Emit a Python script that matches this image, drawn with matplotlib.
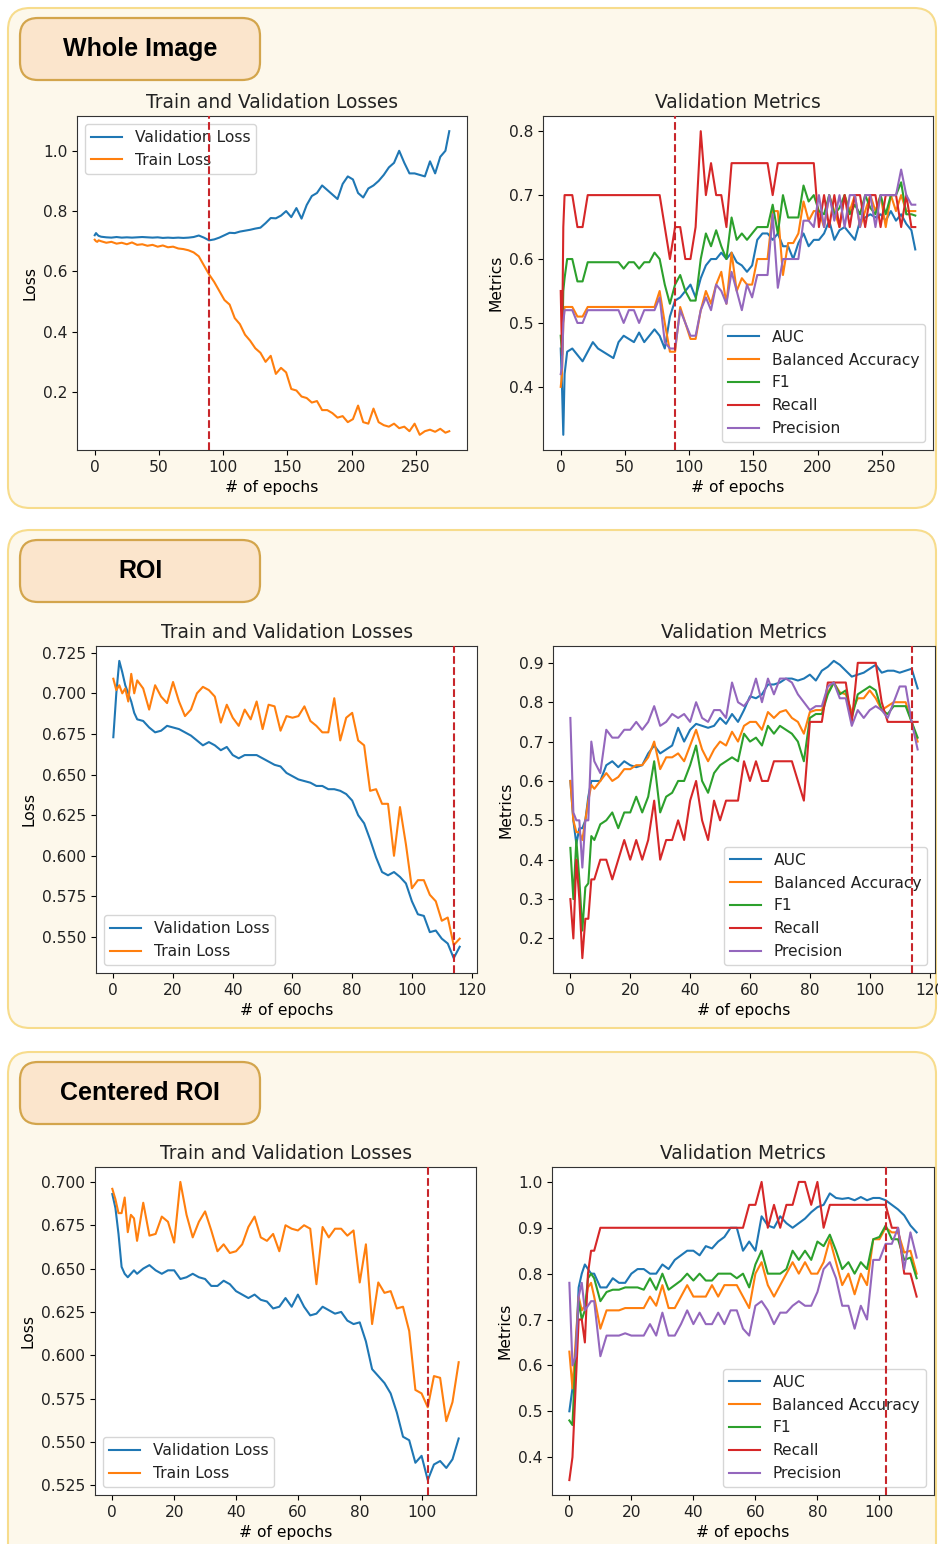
import matplotlib.pyplot as plt
from matplotlib.patches import FancyBboxPatch

# ---------------- Whole Image ----------------
wi_epochs = [0, 1, 2, 3,
             5, 9, 13, 17, 21, 25, 29, 33, 37, 41,
             45, 49, 53, 57, 61, 65, 69, 73, 77, 81,
             85, 89, 93, 97, 101, 105, 109, 113, 117, 121,
             125, 129, 133, 137, 141, 145, 149, 153, 157, 161,
             165, 169, 173, 177, 181, 185, 189, 193, 197, 201,
             205, 209, 213, 217, 221, 225, 229, 233, 237, 241,
             245, 249, 253, 257, 261, 265, 269, 273, 276]
wi_val_loss = [0.720, 0.727, 0.722, 0.718,
               0.715, 0.713, 0.712, 0.714, 0.712, 0.713, 0.712, 0.713, 0.714, 0.713,
               0.712, 0.713, 0.711, 0.712, 0.711, 0.712, 0.711, 0.712, 0.714, 0.719,
               0.712, 0.703, 0.706, 0.712, 0.720, 0.728, 0.727, 0.732, 0.735, 0.738,
               0.742, 0.745, 0.760, 0.777, 0.776, 0.785, 0.800, 0.780, 0.810, 0.775,
               0.820, 0.850, 0.860, 0.885, 0.870, 0.855, 0.840, 0.890, 0.915, 0.905,
               0.860, 0.845, 0.875, 0.885, 0.900, 0.920, 0.945, 0.960, 1.000, 0.960,
               0.925, 0.925, 0.920, 0.915, 0.965, 0.925, 0.980, 1.000, 1.065]
wi_train_loss = [0.705, 0.700, 0.698, 0.703,
                 0.700, 0.695, 0.698, 0.692, 0.695, 0.690, 0.696, 0.688, 0.690, 0.685,
                 0.688, 0.682, 0.686, 0.680, 0.682, 0.676, 0.674, 0.670, 0.663, 0.650,
                 0.620, 0.590, 0.565, 0.535, 0.505, 0.490, 0.445, 0.425, 0.390, 0.370,
                 0.345, 0.330, 0.300, 0.320, 0.260, 0.280, 0.265, 0.210, 0.205, 0.185,
                 0.180, 0.165, 0.170, 0.140, 0.140, 0.130, 0.115, 0.120, 0.100, 0.110,
                 0.155, 0.100, 0.095, 0.145, 0.100, 0.090, 0.085, 0.095, 0.080, 0.085,
                 0.070, 0.095, 0.058, 0.070, 0.075, 0.068, 0.078, 0.065, 0.070]
wi_auc = [0.46, 0.40, 0.325, 0.42,
          0.455, 0.46, 0.45, 0.44, 0.455, 0.47, 0.46, 0.455, 0.45, 0.445,
          0.47, 0.48, 0.475, 0.47, 0.485, 0.47, 0.48, 0.49, 0.48, 0.46,
          0.51, 0.535, 0.54, 0.55, 0.56, 0.54, 0.57, 0.59, 0.60, 0.60,
          0.61, 0.60, 0.61, 0.595, 0.59, 0.58, 0.59, 0.63, 0.64, 0.64,
          0.63, 0.64, 0.62, 0.62, 0.60, 0.625, 0.64, 0.62, 0.63, 0.63,
          0.64, 0.66, 0.63, 0.645, 0.65, 0.64, 0.63, 0.66, 0.665, 0.67,
          0.665, 0.67, 0.66, 0.675, 0.66, 0.67, 0.655, 0.645, 0.615]
wi_bacc = [0.40, 0.42, 0.50, 0.525,
           0.525, 0.525, 0.51, 0.51, 0.525, 0.525, 0.525, 0.525, 0.525, 0.525,
           0.525, 0.525, 0.525, 0.525, 0.525, 0.525, 0.525, 0.525, 0.55, 0.50,
           0.455, 0.455, 0.525, 0.50, 0.475, 0.475, 0.52, 0.55, 0.53, 0.56,
           0.58, 0.53, 0.61, 0.55, 0.57, 0.56, 0.56, 0.60, 0.60, 0.60,
           0.675, 0.675, 0.575, 0.625, 0.625, 0.64, 0.69, 0.66, 0.675, 0.675,
           0.65, 0.70, 0.675, 0.65, 0.70, 0.675, 0.70, 0.65, 0.675, 0.70,
           0.675, 0.70, 0.65, 0.70, 0.675, 0.70, 0.675, 0.675, 0.675]
wi_f1 = [0.48, 0.45, 0.55, 0.57,
         0.60, 0.60, 0.565, 0.565, 0.595, 0.595, 0.595, 0.595, 0.595, 0.595,
         0.595, 0.585, 0.595, 0.595, 0.585, 0.595, 0.595, 0.61, 0.60, 0.56,
         0.53, 0.56, 0.575, 0.55, 0.535, 0.535, 0.60, 0.64, 0.62, 0.645,
         0.62, 0.60, 0.665, 0.63, 0.64, 0.63, 0.64, 0.65, 0.65, 0.65,
         0.685, 0.64, 0.70, 0.665, 0.665, 0.665, 0.715, 0.69, 0.70, 0.675,
         0.67, 0.70, 0.67, 0.68, 0.70, 0.67, 0.685, 0.67, 0.70, 0.68,
         0.67, 0.70, 0.67, 0.70, 0.70, 0.72, 0.67, 0.67, 0.668]
wi_recall = [0.55, 0.45, 0.65, 0.70,
             0.70, 0.70, 0.65, 0.65, 0.70, 0.70, 0.70, 0.70, 0.70, 0.70,
             0.70, 0.70, 0.70, 0.70, 0.70, 0.70, 0.70, 0.70, 0.70, 0.65,
             0.60, 0.65, 0.65, 0.60, 0.60, 0.65, 0.80, 0.70, 0.75, 0.70,
             0.70, 0.65, 0.75, 0.75, 0.75, 0.75, 0.75, 0.75, 0.75, 0.75,
             0.70, 0.75, 0.75, 0.75, 0.75, 0.75, 0.75, 0.75, 0.75, 0.65,
             0.70, 0.65, 0.70, 0.65, 0.70, 0.65, 0.70, 0.70, 0.65, 0.70,
             0.70, 0.65, 0.70, 0.70, 0.70, 0.65, 0.70, 0.65, 0.65]
wi_precision = [0.42, 0.43, 0.50, 0.52,
                0.52, 0.52, 0.50, 0.50, 0.52, 0.52, 0.52, 0.52, 0.52, 0.52,
                0.52, 0.50, 0.52, 0.52, 0.50, 0.52, 0.52, 0.52, 0.54, 0.47,
                0.46, 0.46, 0.52, 0.50, 0.48, 0.48, 0.52, 0.54, 0.52, 0.56,
                0.55, 0.53, 0.58, 0.55, 0.52, 0.56, 0.54, 0.575, 0.575, 0.575,
                0.67, 0.555, 0.60, 0.60, 0.60, 0.60, 0.66, 0.66, 0.65, 0.70,
                0.65, 0.70, 0.66, 0.70, 0.65, 0.70, 0.70, 0.65, 0.70, 0.70,
                0.65, 0.70, 0.70, 0.70, 0.70, 0.74, 0.70, 0.685, 0.685]
wi_best = 89

# ---------------- ROI ----------------
roi_epochs = [0, 1, 2, 3, 4, 5, 6, 7,
              8, 10, 12, 14, 16, 18, 20, 22, 24, 26,
              28, 30, 32, 34, 36, 38, 40, 42, 44, 46,
              48, 50, 52, 54, 56, 58, 60, 62, 64, 66,
              68, 70, 72, 74, 76, 78, 80, 82, 84, 86,
              88, 90, 92, 94, 96, 98, 100, 102, 104, 106,
              108, 110, 112, 114, 116]
roi_val_loss = [0.673, 0.700, 0.720, 0.713, 0.705, 0.700, 0.695, 0.688,
                0.684, 0.683, 0.679, 0.676, 0.677, 0.680, 0.679, 0.678, 0.676, 0.674,
                0.671, 0.668, 0.670, 0.668, 0.665, 0.667, 0.662, 0.660, 0.662, 0.662,
                0.662, 0.660, 0.658, 0.656, 0.655, 0.651, 0.649, 0.647, 0.646, 0.645,
                0.643, 0.643, 0.641, 0.641, 0.640, 0.638, 0.634, 0.625, 0.620, 0.610,
                0.599, 0.590, 0.588, 0.590, 0.587, 0.583, 0.572, 0.564, 0.563, 0.553,
                0.554, 0.549, 0.546, 0.537, 0.544]
roi_train_loss = [0.709, 0.702, 0.705, 0.700, 0.703, 0.695, 0.712, 0.700,
                  0.708, 0.703, 0.690, 0.705, 0.698, 0.694, 0.707, 0.695, 0.686, 0.690,
                  0.700, 0.704, 0.702, 0.698, 0.682, 0.693, 0.685, 0.680, 0.690, 0.684,
                  0.695, 0.678, 0.693, 0.692, 0.677, 0.686, 0.685, 0.686, 0.692, 0.683,
                  0.680, 0.676, 0.676, 0.697, 0.671, 0.685, 0.688, 0.671, 0.668, 0.640,
                  0.641, 0.632, 0.632, 0.600, 0.630, 0.607, 0.580, 0.585, 0.585, 0.576,
                  0.572, 0.560, 0.562, 0.545, 0.549]
roi_auc = [0.60, 0.50, 0.44, 0.48, 0.48, 0.50, 0.56, 0.60,
           0.60, 0.60, 0.64, 0.65, 0.635, 0.65, 0.64, 0.635, 0.64, 0.67,
           0.69, 0.67, 0.68, 0.69, 0.735, 0.70, 0.73, 0.745, 0.74, 0.735,
           0.74, 0.76, 0.745, 0.77, 0.75, 0.78, 0.815, 0.81, 0.82, 0.845,
           0.845, 0.85, 0.86, 0.86, 0.855, 0.86, 0.87, 0.855, 0.88, 0.89,
           0.905, 0.895, 0.88, 0.865, 0.87, 0.875, 0.885, 0.895, 0.875, 0.88,
           0.88, 0.875, 0.88, 0.885, 0.835]
roi_bacc = [0.60, 0.50, 0.47, 0.47, 0.45, 0.50, 0.55, 0.59,
            0.58, 0.60, 0.62, 0.60, 0.61, 0.63, 0.63, 0.64, 0.64, 0.66,
            0.70, 0.63, 0.66, 0.66, 0.67, 0.65, 0.69, 0.73, 0.68, 0.65,
            0.68, 0.70, 0.69, 0.725, 0.70, 0.74, 0.75, 0.75, 0.73, 0.775,
            0.76, 0.775, 0.78, 0.76, 0.75, 0.72, 0.775, 0.78, 0.78, 0.825,
            0.85, 0.825, 0.82, 0.775, 0.81, 0.81, 0.83, 0.81, 0.78, 0.79,
            0.80, 0.80, 0.80, 0.75, 0.70]
roi_f1 = [0.43, 0.30, 0.45, 0.35, 0.22, 0.33, 0.34, 0.46,
          0.45, 0.49, 0.50, 0.52, 0.48, 0.52, 0.52, 0.56, 0.52, 0.56,
          0.65, 0.52, 0.56, 0.57, 0.60, 0.60, 0.64, 0.69, 0.60, 0.57,
          0.62, 0.64, 0.65, 0.66, 0.65, 0.72, 0.70, 0.71, 0.69, 0.74,
          0.72, 0.74, 0.73, 0.72, 0.70, 0.65, 0.76, 0.77, 0.77, 0.82,
          0.85, 0.82, 0.83, 0.76, 0.82, 0.83, 0.84, 0.83, 0.78, 0.77,
          0.79, 0.79, 0.79, 0.75, 0.71]
roi_recall = [0.30, 0.20, 0.40, 0.30, 0.15, 0.25, 0.25, 0.35,
              0.35, 0.40, 0.40, 0.35, 0.40, 0.45, 0.40, 0.45, 0.40, 0.45,
              0.55, 0.40, 0.45, 0.45, 0.50, 0.45, 0.55, 0.60, 0.50, 0.45,
              0.55, 0.50, 0.55, 0.55, 0.55, 0.65, 0.60, 0.65, 0.60, 0.60,
              0.65, 0.65, 0.65, 0.65, 0.60, 0.55, 0.75, 0.75, 0.75, 0.85,
              0.85, 0.85, 0.85, 0.75, 0.90, 0.90, 0.90, 0.90, 0.80, 0.75,
              0.75, 0.75, 0.75, 0.75, 0.75]
roi_precision = [0.76, 0.52, 0.50, 0.50, 0.38, 0.50, 0.50, 0.70,
                 0.65, 0.62, 0.73, 0.71, 0.71, 0.73, 0.73, 0.75, 0.73, 0.75,
                 0.79, 0.74, 0.75, 0.77, 0.76, 0.77, 0.75, 0.80, 0.76, 0.75,
                 0.78, 0.78, 0.76, 0.85, 0.80, 0.79, 0.81, 0.86, 0.80, 0.86,
                 0.82, 0.86, 0.86, 0.85, 0.82, 0.80, 0.78, 0.79, 0.79, 0.84,
                 0.85, 0.81, 0.81, 0.74, 0.78, 0.76, 0.78, 0.79, 0.78, 0.76,
                 0.80, 0.84, 0.84, 0.75, 0.68]
roi_best = 114

# ---------------- Centered ROI ----------------
cr_epochs = [0, 1, 2, 3, 4, 5, 6, 7,
             8, 10, 12, 14, 16, 18, 20, 22, 24, 26,
             28, 30, 32, 34, 36, 38, 40, 42, 44, 46,
             48, 50, 52, 54, 56, 58, 60, 62, 64, 66,
             68, 70, 72, 74, 76, 78, 80, 82, 84, 86,
             88, 90, 92, 94, 96, 98, 100, 102, 104, 106,
             108, 110, 112]
cr_val_loss = [0.693, 0.685, 0.670, 0.651, 0.647, 0.645, 0.647, 0.649,
               0.647, 0.650, 0.652, 0.649, 0.647, 0.649, 0.649, 0.644, 0.645, 0.647,
               0.645, 0.644, 0.640, 0.640, 0.643, 0.641, 0.637, 0.635, 0.633, 0.635,
               0.632, 0.631, 0.627, 0.628, 0.633, 0.628, 0.635, 0.628, 0.623, 0.624,
               0.628, 0.626, 0.624, 0.625, 0.620, 0.618, 0.619, 0.608, 0.592, 0.588,
               0.584, 0.578, 0.567, 0.553, 0.551, 0.538, 0.542, 0.528, 0.537, 0.539,
               0.535, 0.540, 0.552]
cr_train_loss = [0.696, 0.690, 0.682, 0.682, 0.691, 0.671, 0.681, 0.679,
                 0.666, 0.688, 0.669, 0.670, 0.680, 0.677, 0.665, 0.700, 0.681, 0.668,
                 0.677, 0.683, 0.672, 0.660, 0.664, 0.659, 0.660, 0.664, 0.674, 0.680,
                 0.668, 0.666, 0.670, 0.660, 0.675, 0.673, 0.672, 0.675, 0.673, 0.641,
                 0.674, 0.668, 0.673, 0.673, 0.669, 0.672, 0.642, 0.664, 0.618, 0.642,
                 0.636, 0.637, 0.627, 0.628, 0.614, 0.580, 0.578, 0.570, 0.588, 0.587,
                 0.562, 0.573, 0.596]
cr_auc = [0.50, 0.55, 0.62, 0.77, 0.80, 0.82, 0.81, 0.80,
          0.80, 0.77, 0.77, 0.79, 0.78, 0.78, 0.80, 0.81, 0.81, 0.80,
          0.80, 0.82, 0.81, 0.83, 0.84, 0.85, 0.85, 0.84, 0.86, 0.855,
          0.87, 0.88, 0.90, 0.90, 0.85, 0.87, 0.85, 0.925, 0.905, 0.90,
          0.925, 0.91, 0.90, 0.91, 0.92, 0.934, 0.945, 0.95, 0.975, 0.965,
          0.963, 0.965, 0.96, 0.967, 0.96, 0.965, 0.965, 0.96, 0.95, 0.94,
          0.927, 0.905, 0.89]
cr_bacc = [0.63, 0.55, 0.65, 0.75, 0.72, 0.73, 0.77, 0.78,
           0.75, 0.68, 0.72, 0.72, 0.72, 0.725, 0.725, 0.725, 0.725, 0.75,
           0.73, 0.775, 0.725, 0.725, 0.75, 0.775, 0.75, 0.75, 0.75, 0.775,
           0.75, 0.775, 0.775, 0.775, 0.75, 0.725, 0.80, 0.825, 0.775, 0.75,
           0.775, 0.80, 0.825, 0.80, 0.825, 0.80, 0.80, 0.825, 0.875, 0.825,
           0.775, 0.80, 0.755, 0.80, 0.775, 0.875, 0.875, 0.90, 0.89, 0.89,
           0.846, 0.85, 0.80]
cr_f1 = [0.48, 0.47, 0.62, 0.74, 0.70, 0.72, 0.79, 0.80,
         0.79, 0.74, 0.76, 0.765, 0.765, 0.77, 0.77, 0.77, 0.765, 0.79,
         0.765, 0.80, 0.765, 0.775, 0.785, 0.80, 0.785, 0.80, 0.785, 0.785,
         0.80, 0.80, 0.80, 0.79, 0.80, 0.77, 0.82, 0.85, 0.80, 0.80,
         0.80, 0.81, 0.85, 0.83, 0.85, 0.83, 0.87, 0.86, 0.885, 0.85,
         0.81, 0.825, 0.80, 0.825, 0.81, 0.875, 0.88, 0.905, 0.875, 0.875,
         0.83, 0.835, 0.79]
cr_recall = [0.35, 0.40, 0.55, 0.70, 0.70, 0.65, 0.80, 0.85,
             0.85, 0.90, 0.90, 0.90, 0.90, 0.90, 0.90, 0.90, 0.90, 0.90,
             0.90, 0.90, 0.90, 0.90, 0.90, 0.90, 0.90, 0.90, 0.90, 0.90,
             0.90, 0.90, 0.90, 0.90, 0.90, 0.95, 0.95, 1.00, 0.90, 0.95,
             0.90, 0.95, 0.95, 1.00, 1.00, 0.95, 1.00, 0.90, 0.95, 0.95,
             0.95, 0.95, 0.95, 0.95, 0.95, 0.95, 0.95, 0.95, 0.90, 0.90,
             0.80, 0.80, 0.75]
cr_precision = [0.78, 0.60, 0.62, 0.75, 0.78, 0.72, 0.73, 0.74,
                0.74, 0.62, 0.665, 0.665, 0.665, 0.67, 0.665, 0.665, 0.665, 0.69,
                0.665, 0.715, 0.665, 0.665, 0.69, 0.72, 0.69, 0.715, 0.69, 0.69,
                0.715, 0.69, 0.72, 0.72, 0.68, 0.665, 0.73, 0.74, 0.72, 0.69,
                0.715, 0.715, 0.73, 0.74, 0.73, 0.73, 0.76, 0.81, 0.825, 0.79,
                0.73, 0.73, 0.68, 0.73, 0.70, 0.83, 0.83, 0.865, 0.865, 0.90,
                0.81, 0.89, 0.835]
cr_best = 102

W, H = 938, 1544
PANEL_FILL = "#fdf8eb"
PANEL_EDGE = "#f7dc8c"
TAG_FILL = "#fbe5cc"
TAG_EDGE = "#d3a54c"
BEST_COLOR = "#c8262b"

plt.rcParams["font.size"] = 11.2
plt.rcParams["text.color"] = "#222222"
plt.rcParams["xtick.labelcolor"] = "#222222"
plt.rcParams["ytick.labelcolor"] = "#222222"
plt.rcParams["axes.edgecolor"] = "#333333"


def rect(l, t, r, b):
    # pixel box -> figure fraction
    return [l / W, 1 - b / H, (r - l) / W, (b - t) / H]


def loss_plot(ax, ep, val, train, best, loc):
    ax.plot(ep, val, label="Validation Loss")
    ax.plot(ep, train, label="Train Loss")
    ax.axvline(best, color=BEST_COLOR, linestyle="--", zorder=6)
    ax.set_title("Train and Validation Losses")
    ax.set_xlabel("# of epochs")
    ax.set_ylabel("Loss")
    ax.legend(loc=loc)


def metric_plot(ax, ep, auc, bacc, f1, rec, prec, best):
    ax.plot(ep, auc, label="AUC")
    ax.plot(ep, bacc, label="Balanced Accuracy")
    ax.plot(ep, f1, label="F1")
    ax.plot(ep, rec, label="Recall")
    ax.plot(ep, prec, label="Precision")
    ax.axvline(best, color=BEST_COLOR, linestyle="--", zorder=6)
    ax.set_title("Validation Metrics")
    ax.set_xlabel("# of epochs")
    ax.set_ylabel("Metrics")
    ax.legend(loc="lower right")


fig = plt.figure(figsize=(W / 100, H / 100), dpi=100)

# background panels drawn in pixel space
bg = fig.add_axes([0, 0, 1, 1], zorder=-1)
bg.set_xlim(0, W)
bg.set_ylim(H, 0)
bg.axis("off")

panels = [(8, 8, 928, 500, "Whole Image", 18),
          (8, 530, 928, 498, "ROI", 540),
          (8, 1052, 928, 520, "Centered ROI", 1062)]
for x, y, w, h, name, ty in panels:
    bg.add_patch(FancyBboxPatch((x, y), w, h, boxstyle="round,pad=0,rounding_size=22",
                                facecolor=PANEL_FILL, edgecolor=PANEL_EDGE, linewidth=1.5))
    bg.add_patch(FancyBboxPatch((20, ty), 240, 62, boxstyle="round,pad=0,rounding_size=18",
                                facecolor=TAG_FILL, edgecolor=TAG_EDGE, linewidth=1.6))
    bg.text(140, ty + 31, name, ha="center", va="center", fontsize=18,
            fontweight="bold", family="Liberation Sans", color="black")

ax = fig.add_axes(rect(77, 116, 467, 450))
loss_plot(ax, wi_epochs, wi_val_loss, wi_train_loss, wi_best, "upper left")
ax = fig.add_axes(rect(543, 116, 933, 450))
metric_plot(ax, wi_epochs, wi_auc, wi_bacc, wi_f1, wi_recall, wi_precision, wi_best)

ax = fig.add_axes(rect(96, 646, 477, 973))
loss_plot(ax, roi_epochs, roi_val_loss, roi_train_loss, roi_best, "lower left")
ax = fig.add_axes(rect(553, 646, 935, 973))
metric_plot(ax, roi_epochs, roi_auc, roi_bacc, roi_f1, roi_recall, roi_precision, roi_best)

ax = fig.add_axes(rect(95, 1167, 476, 1495))
loss_plot(ax, cr_epochs, cr_val_loss, cr_train_loss, cr_best, "lower left")
ax = fig.add_axes(rect(552, 1167, 934, 1495))
metric_plot(ax, cr_epochs, cr_auc, cr_bacc, cr_f1, cr_recall, cr_precision, cr_best)

fig.savefig("out.png", dpi=100)
plt.close(fig)
